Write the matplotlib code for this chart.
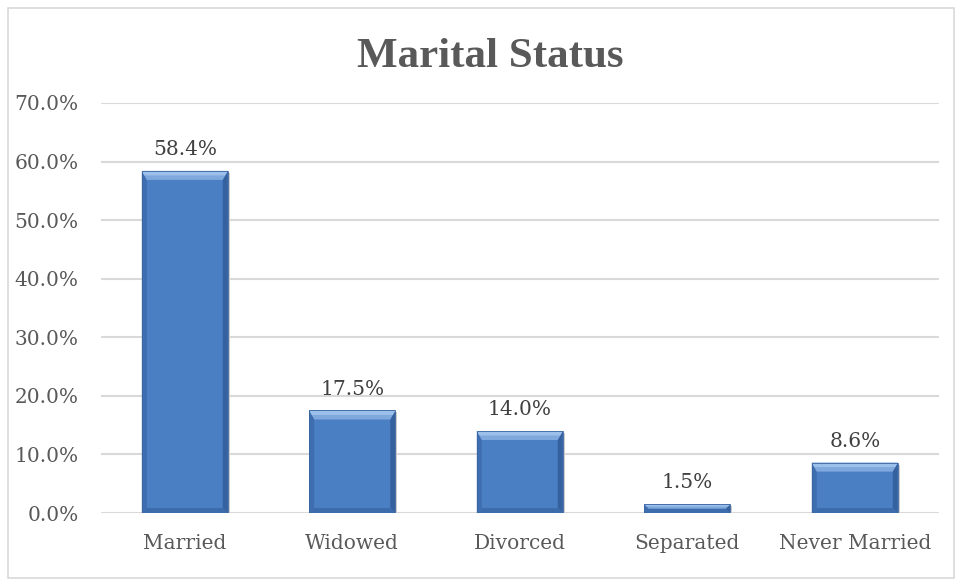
import matplotlib.pyplot as plt
from matplotlib.patches import Polygon, Rectangle

categories = ['Married', 'Widowed', 'Divorced', 'Separated', 'Never Married']
values = [58.4, 17.5, 14.0, 1.5, 8.6]
yticks = [0, 10, 20, 30, 40, 50, 60, 70]

plt.rcParams['font.family'] = ['DejaVu Serif']

fig = plt.figure(figsize=(9.56, 5.8), dpi=100)
ax = fig.add_axes([0.1057, 0.1155, 0.876, 0.707])

# chart border
fig.add_artist(Rectangle((0.008, 0.004), 0.99, 0.982, transform=fig.transFigure,
                         fill=False, edgecolor='#d9d9d9', lw=1.2))

x = list(range(len(categories)))
width = 0.513
ax.bar(x, values, width=width, color='#4a7fc4', zorder=3)

# bevel sizes from the pixel scale (1 category = 167.5px, 10% = 58.6px)
px = 1 / 167.5
py = 1 / 5.86
for xi, v in zip(x, values):
    l, r = xi - width / 2, xi + width / 2
    # faint shadow
    ax.add_patch(Rectangle((l + 2 * px, -2 * py), width, v, color='#cccccc', lw=0, zorder=2))
    t = min(9 * py, v / 2)
    b = min(5 * py, v / 2)
    s = 5 * px
    ts = min(s, 9 * px * t / (9 * py))
    top = [(l, v), (r, v), (r - ts, v - t), (l + ts, v - t)]
    top_hi = [(l, v), (r, v), (r - ts / 2, v - t / 2), (l + ts / 2, v - t / 2)]
    bot = [(l, 0), (r, 0), (r - s, b), (l + s, b)]
    left = [(l, 0), (l + s, b), (l + ts, v - t), (l, v)]
    right = [(r, 0), (r - s, b), (r - ts, v - t), (r, v)]
    ax.add_patch(Polygon(left, closed=True, color='#3e6eb0', lw=0, zorder=4))
    ax.add_patch(Polygon(right, closed=True, color='#35619f', lw=0, zorder=4))
    ax.add_patch(Polygon(bot, closed=True, color='#3d6cad', lw=0, zorder=4))
    ax.add_patch(Polygon(top, closed=True, color='#7fa8dc', lw=0, zorder=4))
    ax.add_patch(Polygon(top_hi, closed=True, color='#9cc0ea', lw=0, zorder=4))
    ax.add_patch(Rectangle((l, 0), width, v, fill=False, edgecolor='#3a64a0', lw=0.6, zorder=5))
    ax.text(xi, v + 2.7, f'{v:.1f}%', ha='center', va='baseline', fontsize=14.5, color='#404040')

ax.set_xlim(-0.5, len(categories) - 0.5)
ax.set_ylim(0, 70)
ax.set_yticks(yticks)
ax.set_yticklabels([f'{t:.1f}%' for t in yticks], fontsize=14.5, color='#595959')
ax.set_xticks(x)
ax.set_xticklabels(categories, fontsize=14.5, color='#595959')
ax.tick_params(length=0)
ax.tick_params(axis='x', pad=15)
ax.tick_params(axis='y', pad=16)
ax.grid(axis='y', color='#d9d9d9', lw=1.5, zorder=0)
for sp in ax.spines.values():
    sp.set_visible(False)

fig.text(0.513, 0.8845, 'Marital Status', ha='center', va='baseline', fontsize=31,
         fontweight='bold', color='#595959', family='Liberation Serif')

fig.savefig('out.png', dpi=100)
